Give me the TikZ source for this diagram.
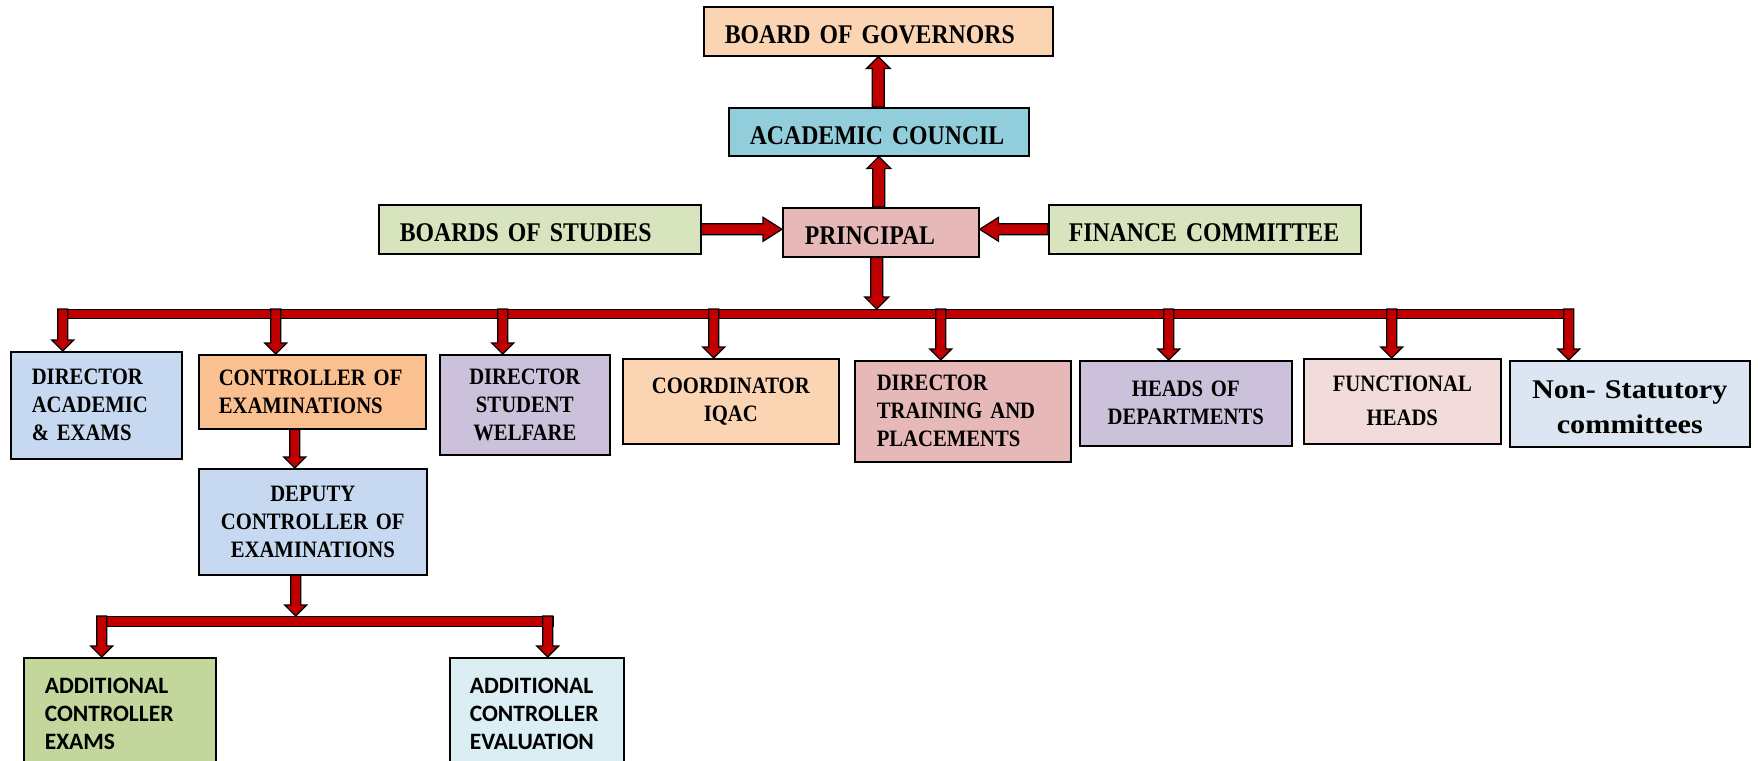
\documentclass[tikz,border=0pt]{standalone}
\usepackage{fontspec}
\newfontfamily\camfont{Liberation Serif}[FakeStretch=0.88, WordSpace=0.8]
\newfontfamily\camwfont{Liberation Serif}[FakeStretch=1.12, WordSpace=0.8]
\newfontfamily\calibfont{Carlito}
\usetikzlibrary{calc}
\definecolor{bogc}{HTML}{FBD4B4}
\definecolor{acc}{HTML}{92CDDC}
\definecolor{prc}{HTML}{E6B8B7}
\definecolor{grc}{HTML}{D7E4BD}
\definecolor{bluc}{HTML}{C6D9F1}
\definecolor{orc}{HTML}{FAC090}
\definecolor{lavc}{HTML}{CCC1DA}
\definecolor{pinkc}{HTML}{F2DCDB}
\definecolor{nsc}{HTML}{DCE6F2}
\definecolor{gc}{HTML}{C3D69B}
\definecolor{lbc}{HTML}{DBEEF4}
\definecolor{arrowred}{HTML}{C00000}
\tikzset{
  asw/.store in=\asw, ahw/.store in=\ahw, ahl/.store in=\ahl,
  asw=5, ahw=11, ahl=11,
  barrow/.style={fill=arrowred, draw=black, line width=1.2pt, line join=miter,
    to path={let \p1=(\tikztostart), \p2=(\tikztotarget),
      \n1={veclen(\x2-\x1,\y2-\y1)},
      \n2={(\x2-\x1)/\n1}, \n3={(\y2-\y1)/\n1}, \n4={\n1-\ahl}
    in ({\x1-(\n3)*\asw}, {\y1+(\n2)*\asw})
    -- ({\x1+(\n4)*(\n2)-(\n3)*\asw}, {\y1+(\n4)*(\n3)+(\n2)*\asw})
    -- ({\x1+(\n4)*(\n2)-(\n3)*\ahw}, {\y1+(\n4)*(\n3)+(\n2)*\ahw})
    -- (\x2,\y2)
    -- ({\x1+(\n4)*(\n2)+(\n3)*\ahw}, {\y1+(\n4)*(\n3)-(\n2)*\ahw})
    -- ({\x1+(\n4)*(\n2)+(\n3)*\asw}, {\y1+(\n4)*(\n3)-(\n2)*\asw})
    -- ({\x1+(\n3)*\asw}, {\y1-(\n2)*\asw}) -- cycle}},
  bigarrow/.style={barrow, asw=6, ahw=12, ahl=12},
  sidearrow/.style={barrow, asw=5.5, ahw=12, ahl=19},
  busbar/.style={rectangle, fill=arrowred, draw=black, line width=1.2pt, inner sep=0pt, anchor=north west},
  box/.style={rectangle, draw=black, line width=1.6pt, inner ysep=0pt, anchor=north west, text=black},
  lft/.style={align=left},
  ctr/.style={align=center, inner xsep=5pt},
  topf/.style={font=\camfont\bfseries\fontsize{27}{32}\selectfont, text height=25pt, align=left},
  midf/.style={font=\camfont\bfseries\fontsize{23.5}{28}\selectfont},
  calf/.style={font=\calibfont\bfseries\fontsize{23.5}{28}\selectfont, align=left, inner ysep=20pt},
}
\begin{document}
\begin{tikzpicture}[x=1pt,y=-1pt]
\useasboundingbox (0,0) rectangle (1758,760);
\fill[white] (0,0) rectangle (1758,760);

% top level
\node[box, topf, fill=bogc, text width=307pt, inner xsep=21pt, minimum height=49pt] (bog) at (703,6) {BOARD OF GOVERNORS};
\node[box, topf, fill=acc, text width=258pt, inner xsep=21pt, minimum height=48pt] (ac) at (728,107) {ACADEMIC COUNCIL};
\node[box, topf, fill=prc, text width=152pt, inner xsep=22pt, minimum height=49pt] (pr) at (782,207) {PRINCIPAL};
\node[box, topf, fill=grc, text width=280pt, inner xsep=21pt, minimum height=49pt] (bos) at (378,204) {BOARDS OF STUDIES};
\node[box, topf, fill=grc, text width=272pt, inner xsep=20pt, minimum height=49pt] (fin) at (1048,204) {FINANCE COMMITTEE};

% buses
\node[busbar, minimum width=1516pt, minimum height=9pt] (bus) at (57,309) {};
\node[busbar, minimum width=457pt, minimum height=10pt] (bus2) at (96,616) {};

% second level
\node[box, midf, lft, fill=bluc, text width=129pt, inner xsep=21pt, minimum height=107pt] (da) at (10,351) {DIRECTOR\\ACADEMIC\\\& EXAMS};
\node[box, midf, lft, fill=orc, text width=187pt, inner xsep=20pt, minimum height=74pt] (coe) at (198,354) {CONTROLLER OF\\EXAMINATIONS};
\node[box, midf, ctr, fill=lavc, text width=160pt, minimum height=100pt] (dsw) at (439,354) {DIRECTOR\\STUDENT\\WELFARE};
\node[box, midf, ctr, fill=bogc, text width=206pt, minimum height=85pt] (iqac) at (622,358) {COORDINATOR\\IQAC};
\node[box, midf, lft, fill=prc, text width=172pt, inner xsep=22pt, minimum height=101pt] (dt) at (854,360) {DIRECTOR\\TRAINING AND\\PLACEMENTS};
\node[box, midf, ctr, fill=lavc, text width=202pt, minimum height=85pt] (hod) at (1079,360) {HEADS OF\\DEPARTMENTS};
\node[box, ctr, font=\camfont\bfseries\fontsize{23.5}{34}\selectfont, fill=pinkc, text width=187pt, minimum height=85pt] (fh) at (1303,358) {FUNCTIONAL\\HEADS};
\node[box, ctr, font=\camwfont\bfseries\fontsize{27}{35}\selectfont, fill=nsc, text width=230pt, minimum height=86pt, text depth=28pt] (ns) at (1509,360) {Non- Statutory\\committees};

% exam branch
\node[box, midf, ctr, fill=bluc, text width=218pt, minimum height=106pt] (dep) at (198,468) {DEPUTY\\CONTROLLER OF\\EXAMINATIONS};
\node[box, calf, fill=gc, text width=150pt, inner xsep=21pt] (ace) at (23,657) {ADDITIONAL\\CONTROLLER\\EXAMS};
\node[box, calf, fill=lbc, text width=134pt, inner xsep=20pt] (acev) at (449,657) {ADDITIONAL\\CONTROLLER\\EVALUATION};

% arrows, top
\path[bigarrow] (bog.south |- ac.north) to (bog.south);
\path[bigarrow] (ac.south |- pr.north) to (ac.south);
\path[sidearrow] (bos.east) to (pr.west |- bos.east);
\path[sidearrow] (fin.west) to (pr.east |- fin.west);
\path[bigarrow] ([xshift=-4pt]pr.south) to ([xshift=-4pt]pr.south |- bus.north);

% arrows from bus
\path[barrow] ([xshift=-33.5pt]da.north |- bus.north) to ([xshift=-33.5pt]da.north);
\path[barrow] ([xshift=-36.5pt]coe.north |- bus.north) to ([xshift=-36.5pt]coe.north);
\path[barrow] ([xshift=-22pt]dsw.north |- bus.north) to ([xshift=-22pt]dsw.north);
\path[barrow] ([xshift=-17pt]iqac.north |- bus.north) to ([xshift=-17pt]iqac.north);
\path[barrow] ([xshift=-22pt]dt.north |- bus.north) to ([xshift=-22pt]dt.north);
\path[barrow] ([xshift=-17pt]hod.north |- bus.north) to ([xshift=-17pt]hod.north);
\path[barrow] ([xshift=-10.5pt]fh.north |- bus.north) to ([xshift=-10.5pt]fh.north);
\path[barrow] ([xshift=-61pt]ns.north |- bus.north) to ([xshift=-61pt]ns.north);

% exam branch arrows
\path[barrow] ([xshift=-17.5pt]coe.south) to ([xshift=-17.5pt]coe.south |- dep.north);
\path[barrow] ([xshift=-17pt]dep.south) to ([xshift=-17pt]dep.south |- bus2.north);
\path[barrow] ([xshift=-18pt]ace.north |- bus2.north) to ([xshift=-18pt]ace.north);
\path[barrow] ([xshift=11pt]acev.north |- bus2.north) to ([xshift=11pt]acev.north);
\end{tikzpicture}
\end{document}
